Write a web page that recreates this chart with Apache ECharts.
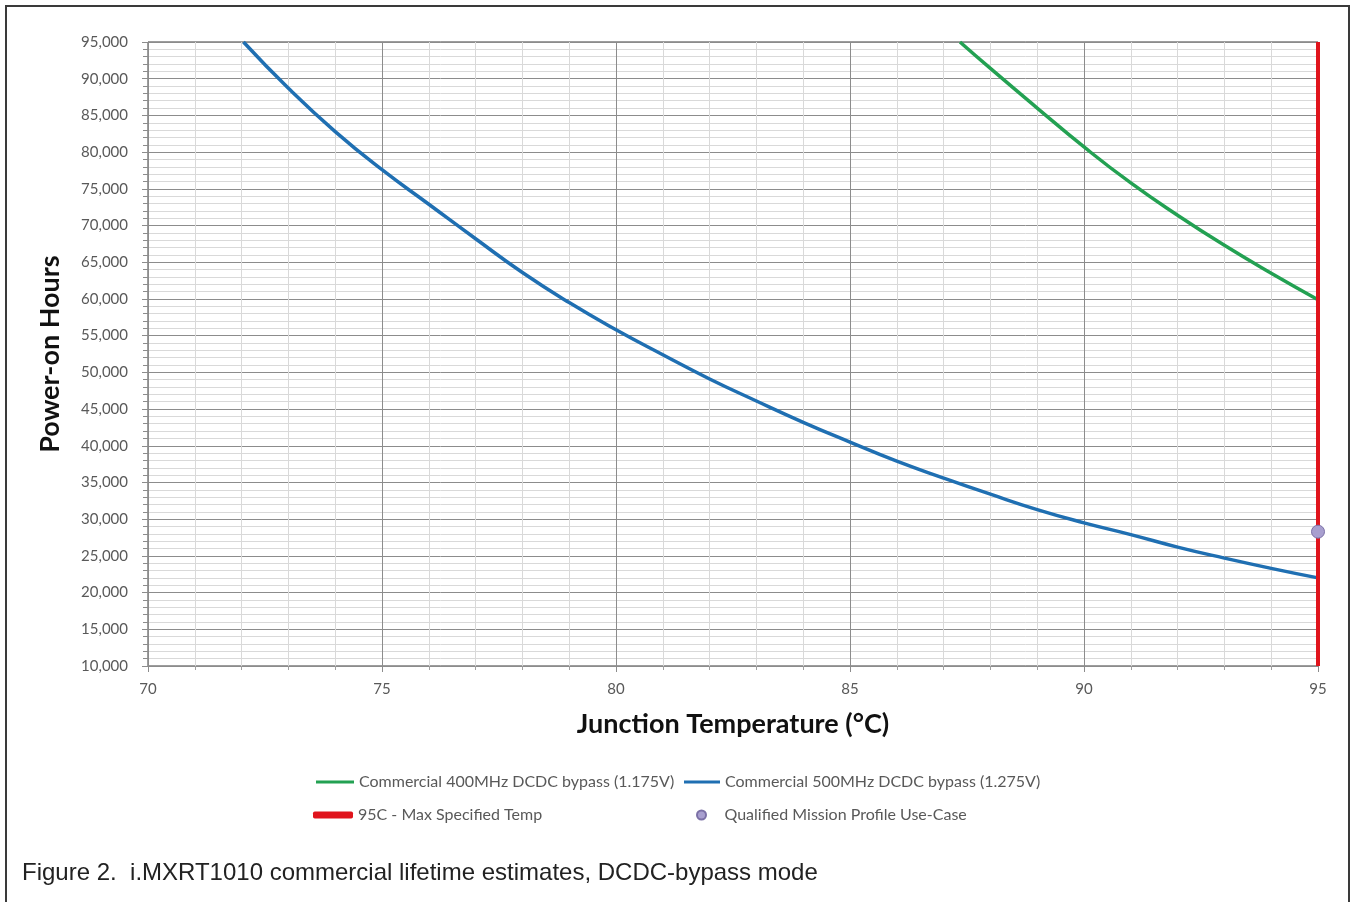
<!DOCTYPE html>
<html>
<head>
<meta charset="utf-8">
<script src="https://cdn.jsdelivr.net/npm/echarts@6/dist/echarts.min.js"></script>
<style>
  html, body { margin: 0; padding: 0; background: #ffffff; }
  #frame { position: absolute; left: 5px; top: 5px; width: 1345px; height: 910px;
           border: 2px solid #3a3a3a; border-bottom: none; box-sizing: border-box; }
  #chart { position: absolute; left: 0; top: 0; width: 1354px; height: 902px; }
  #caption { position: absolute; left: 22px; top: 858px; font-family: "Liberation Sans", Arial, sans-serif;
             font-size: 24px; color: #222222; white-space: pre; }
</style>
</head>
<body>
<div id="chart"></div>
<div id="frame"></div>
<div id="caption">Figure 2.  i.MXRT1010 commercial lifetime estimates, DCDC-bypass mode</div>
<script>
// ---- data ----
const seriesNames = [
  "Commercial 400MHz DCDC bypass (1.175V)",
  "Commercial 500MHz DCDC bypass (1.275V)",
  "95C - Max Specified Temp",
  "Qualified Mission Profile Use-Case"
];
const temp400 = [87.35, 88, 89, 90, 91, 92, 93, 94, 95];
const hours400 = [95000, 91400, 86000, 80700, 75800, 71400, 67300, 63500, 59900];
const temp500 = [72.04, 73, 74, 75, 76, 77, 78, 79, 80, 81, 82, 83, 84, 85, 86, 87, 88, 89, 90, 91, 92, 93, 94, 95];
const hours500 = [95000, 88700, 82800, 77600, 72900, 68200, 63600, 59500, 55800, 52400, 49100, 46100, 43200, 40500, 37900, 35600, 33400, 31300, 29500, 27900, 26200, 24700, 23300, 22000];
const maxTemp = [95, 95];
const maxTempHours = [10000, 95000];
const missionTemp = [95];
const missionHours = [28300];
const xTicks = [70, 75, 80, 85, 90, 95];
const yTicks = [10000, 15000, 20000, 25000, 30000, 35000, 40000, 45000, 50000, 55000, 60000, 65000, 70000, 75000, 80000, 85000, 90000, 95000];

const zip = (xs, ys) => xs.map((x, i) => [x, ys[i]]);

const chart = echarts.init(document.getElementById('chart'), null, { renderer: 'canvas' });
const labelFont = { fontFamily: 'Lato', fontSize: 15, color: '#595959' };
const legendText = { fontFamily: 'Lato', fontSize: 16, color: '#595959' };

chart.setOption({
  animation: false,
  backgroundColor: '#ffffff',
  grid: { left: 148, right: 36, top: 42, bottom: 236, show: true, borderColor: '#3a3a3a', borderWidth: 1,
          outerBoundsMode: 'none', containLabel: false },
  xAxis: {
    type: 'value', min: xTicks[0], max: xTicks[xTicks.length - 1], interval: 5,
    name: 'Junction Temperature (°C)', nameLocation: 'middle', nameGap: 45,
    nameTextStyle: { fontFamily: 'Lato', fontWeight: 'bold', fontSize: 27, color: '#111111' },
    axisLine: { show: true, lineStyle: { color: '#8c8c8c', width: 1 } },
    axisTick: { show: true, length: 6, lineStyle: { color: '#8c8c8c' } },
    minorTick: { show: true, splitNumber: 5, length: 4, lineStyle: { color: '#a0a0a0' } },
    axisLabel: Object.assign({ margin: 16 }, labelFont),
    splitLine: { show: true, lineStyle: { color: '#8c8c8c', width: 1 } },
    minorSplitLine: { show: true, lineStyle: { color: '#d9d9d9', width: 1 } }
  },
  yAxis: {
    type: 'value', min: yTicks[0], max: yTicks[yTicks.length - 1], interval: 5000,
    name: 'Power-on Hours', nameLocation: 'middle', nameGap: 84,
    nameTextStyle: { fontFamily: 'Lato', fontWeight: 'bold', fontSize: 27, color: '#111111' },
    axisLine: { show: true, lineStyle: { color: '#8c8c8c', width: 1 } },
    axisTick: { show: true, length: 6, lineStyle: { color: '#8c8c8c' } },
    minorTick: { show: true, splitNumber: 5, length: 5, lineStyle: { color: '#8c8c8c' } },
    axisLabel: Object.assign({ margin: 20, formatter: v => v.toLocaleString('en-US') }, labelFont),
    splitLine: { show: true, lineStyle: { color: '#8c8c8c', width: 1 } },
    minorSplitLine: { show: true, lineStyle: { color: '#d9d9d9', width: 1 } }
  },
  legend: [
    { data: [seriesNames[0]], left: 316, top: 774, padding: 0, icon: 'rect', itemWidth: 38, itemHeight: 3, textStyle: legendText },
    { data: [seriesNames[1]], left: 684, top: 774, padding: 0, icon: 'rect', itemWidth: 36, itemHeight: 3, textStyle: legendText },
    { data: [seriesNames[2]], left: 313, top: 807, padding: 0, icon: 'roundRect', itemWidth: 40, itemHeight: 7, textStyle: legendText },
    { data: [seriesNames[3]], left: 696, top: 807, padding: 0, icon: 'circle', itemWidth: 36, itemHeight: 9, textStyle: legendText }
  ],
  series: [
    { name: seriesNames[0], type: 'line', data: zip(temp400, hours400), smooth: true, showSymbol: false,
      lineStyle: { color: '#23a152', width: 3.5 }, itemStyle: { color: '#23a152' }, z: 3 },
    { name: seriesNames[1], type: 'line', data: zip(temp500, hours500), smooth: true, showSymbol: false,
      lineStyle: { color: '#1f6fb2', width: 3.5 }, itemStyle: { color: '#1f6fb2' }, z: 3 },
    { name: seriesNames[2], type: 'line', data: zip(maxTemp, maxTempHours), showSymbol: false,
      lineStyle: { color: '#e0141c', width: 4 }, itemStyle: { color: '#e0141c' }, z: 4 },
    { name: seriesNames[3], type: 'scatter', data: zip(missionTemp, missionHours), symbolSize: 13,
      itemStyle: { color: '#a89fcf', borderColor: '#7b70a6', borderWidth: 1, opacity: 1 }, z: 5 }
  ]
});
</script>
</body>
</html>
